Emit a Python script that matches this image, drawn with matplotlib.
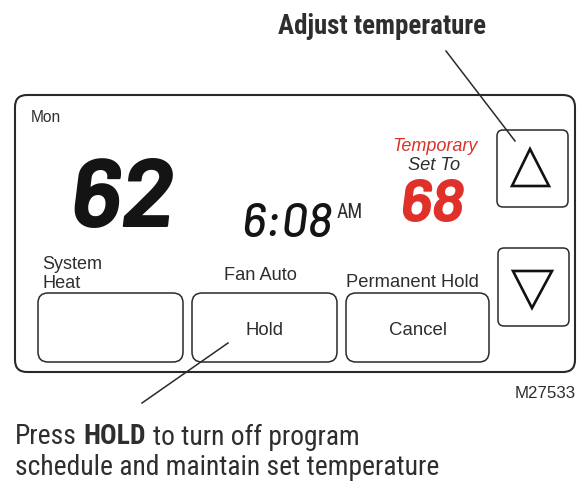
import matplotlib
matplotlib.use('Agg')
import matplotlib.pyplot as plt
from matplotlib.patches import FancyBboxPatch, Polygon
from matplotlib import font_manager as fm
from matplotlib.textpath import TextPath

# ---- content ----
day_label = "Mon"
room_temp = "62"
clock_time = "6:08"
clock_ampm = "AM"
temp_mode = ["Temporary", "Set To"]
set_temp = "68"
caption_top = "Adjust temperature"
button_captions = [["System", "Heat"], ["Fan Auto"], ["Permanent Hold"]]
button_texts = ["", "Hold", "Cancel"]
figure_code = "M27533"
caption_bottom = [["Press", "HOLD", "to turn off program"],
                  ["schedule and maintain set temperature"]]

W, H = 577, 485
fig = plt.figure(figsize=(W / 100, H / 100), dpi=100)
ax = fig.add_axes([0, 0, 1, 1])
ax.set_xlim(0, W)
ax.set_ylim(H, 0)
ax.axis('off')

names = {f.name for f in fm.fontManager.ttflist}


def pick(cands, default='DejaVu Sans'):
    for c in cands:
        if c in names:
            return c
    return default


NARROW = pick(['Roboto Condensed', 'Archivo Narrow', 'Liberation Sans Narrow'])
SANS = pick(['Liberation Sans', 'Arimo', 'Roboto'])

TXT = '#2e2e2e'
LINE = '#2a2a2a'
RED = '#d8342c'


def ink(s, family, style='italic', weight='bold'):
    fp = fm.FontProperties(family=family, style=style, weight=weight, size=100)
    e = TextPath((0, 0), s, prop=fp).get_extents()
    return e.x0, e.width, e.height


# choose the LCD-like font whose "62" proportions come closest to the picture
lcd_cands = [c for c in ['Chakra Petch', 'Barlow Semi Condensed', 'Barlow Condensed',
                         'Barlow', 'Tomorrow'] if c in names] or [NARROW]
target_aspect = 97 / 71
LCD = min(lcd_cands, key=lambda f: abs(ink(room_temp, f)[1] / ink(room_temp, f)[2]
                                      - target_aspect) * (0.8 if f == 'Chakra Petch' else 1.0))

fig.canvas.draw()
R = fig.canvas.get_renderer()


def put(x, y, s, target_w, ha='left', va='center', **kw):
    t = ax.text(x, y, s, ha=ha, va=va, fontsize=20, **kw)
    bb = t.get_window_extent(renderer=R)
    t.set_fontsize(20 * target_w / bb.width)
    return t


def put_digits(x_left, x_right, y_top, y_base, s, weight, color):
    x0, w, h = ink(s, LCD, 'italic', weight)
    fs_h = (y_base - y_top) * 72 / h
    fs_w = (x_right - x_left) * 72 / w
    fs = 0.7 * fs_h + 0.3 * fs_w
    wpx = w * fs / 72
    xl = (x_left + x_right) / 2 - wpx / 2 - x0 * fs / 72
    ax.text(xl, y_base, s, ha='left', va='baseline', fontsize=fs, family=LCD,
            style='italic', weight=weight, color=color)


def rrect(x0, y0, x1, y1, r, lw, color=LINE):
    p = FancyBboxPatch((x0, y0), x1 - x0, y1 - y0,
                       boxstyle=f"round,pad=0,rounding_size={r}",
                       fc='none', ec=color, lw=lw)
    ax.add_patch(p)

# main body
rrect(15, 96, 575, 373, 12, 1.5)

# bottom buttons
btn_x = [(38, 183), (192, 337), (346, 489)]
btn_w = [0, 38, 58]
for (x0, x1), txt, w in zip(btn_x, button_texts, btn_w):
    rrect(x0, 294, x1, 363, 10, 1.1)
    if txt:
        put((x0 + x1) / 2, 331, txt, w, ha='center', family=SANS, color=TXT)

# button captions
put(42, 265, button_captions[0][0], 60, family=SANS, color=TXT)
put(42, 284, button_captions[0][1], 38, family=SANS, color=TXT)
put(224, 276, button_captions[1][0], 73, family=SANS, color=TXT)
put(346, 283, button_captions[2][0], 132, family=SANS, color=TXT)

# up / down buttons
rrect(497, 131, 568, 208, 6, 1.1)
rrect(498, 249, 569, 327, 6, 1.1)
ax.add_patch(Polygon([(530, 150), (512, 187), (549, 187)], closed=True,
                     fc='none', ec='#111111', lw=1.9, joinstyle='miter'))
ax.add_patch(Polygon([(513, 272), (552, 272), (532, 309)], closed=True,
                     fc='none', ec='#111111', lw=1.9, joinstyle='miter'))

# display
put(31, 118, day_label, 30, family=SANS, color=TXT)
put_digits(75, 172, 156, 227, room_temp, 'bold', '#141414')
put_digits(246, 330, 202, 237, clock_time, 500, '#141414')
put(337, 213, clock_ampm, 26, family=NARROW, color=TXT)
put(392, 147, temp_mode[0], 85, family=SANS, style='italic', color=RED)
put(408, 166, temp_mode[1], 52, family=SANS, style='italic', color=TXT)
put_digits(402, 463, 177, 222, set_temp, 'bold', '#e0302a')

put(515, 394, figure_code, 61, family=SANS, color=TXT)

# leaders
ax.plot([446, 515], [52, 142], color=LINE, lw=1.1)
ax.plot([228, 142], [344, 404], color=LINE, lw=1.1)

# captions
put(278, 26, caption_top, 207, family=NARROW, weight='bold', color=TXT)

t2 = put(15, 468, caption_bottom[1][0], 425, family=NARROW, color=TXT)
fs = t2.get_fontsize()
x = 15
for part in caption_bottom[0]:
    t = ax.text(x, 437, part, ha='left', va='center', fontsize=fs,
                family=NARROW, color=TXT,
                weight='bold' if part == "HOLD" else 'normal')
    bb = t.get_window_extent(renderer=R)
    x = x + bb.width + fs * 100 / 72 * 0.24

fig.savefig('out.png', dpi=100)
